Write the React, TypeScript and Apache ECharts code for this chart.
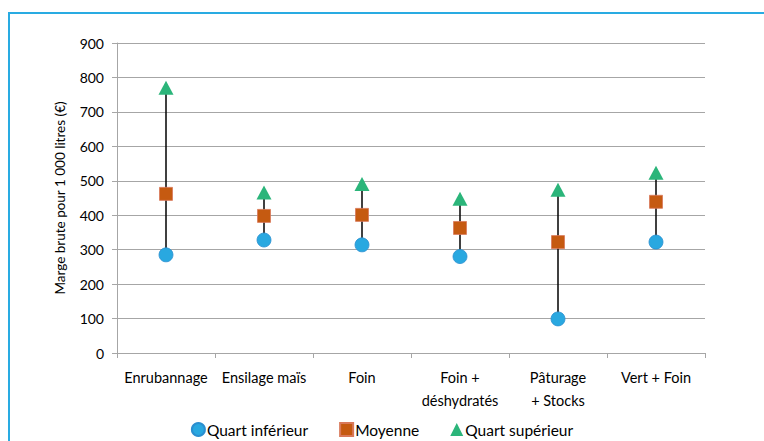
import React, { useEffect, useRef } from "react";
import * as echarts from "echarts";

const categories = ["Enrubannage", "Ensilage maïs", "Foin", "Foin +\ndéshydratés", "Pâturage\n+ Stocks", "Vert + Foin"];
const quartInferieur = [285, 328, 314, 280, 99, 322];
const moyenne = [462, 398, 401, 363, 322, 439];
const quartSuperieur = [770, 466, 491, 448, 474, 523];
const yTicks = [0, 100, 200, 300, 400, 500, 600, 700, 800, 900];

const FONT = "Lato, 'Open Sans', sans-serif";

export default function App() {
  const ref = useRef<HTMLDivElement>(null);
  useEffect(() => {
    if (!ref.current) return;
    const chart = echarts.init(ref.current, undefined, { renderer: "svg" });
    const rangeData = categories.map((_, i) => [i, quartInferieur[i], quartSuperieur[i]]);
    chart.setOption({
      animation: false,
      textStyle: { fontFamily: FONT },
      graphic: [
        {
          type: "rect",
          shape: { x: 9, y: 13, width: 800, height: 500 },
          style: { fill: "none", stroke: "#29abe2", lineWidth: 2 },
          silent: true,
        },
      ],
      grid: { left: 117, right: 59, top: 43, bottom: 88 },
      xAxis: {
        type: "category",
        data: categories,
        boundaryGap: true,
        axisLine: { lineStyle: { color: "#a6a6a6", width: 1 } },
        axisTick: { show: true, length: 5, alignWithLabel: false, lineStyle: { color: "#a6a6a6" } },
        axisLabel: { color: "#000", fontSize: 14.5, fontFamily: FONT, margin: 13, interval: 0, lineHeight: 23 },
      },
      yAxis: {
        type: "value",
        min: 0,
        max: 900,
        interval: 100,
        name: "Marge brute pour 1 000 litres (€)",
        nameLocation: "middle",
        nameGap: 50,
        nameTextStyle: { color: "#000", fontSize: 13.5, fontFamily: FONT },
        axisLine: { show: true, lineStyle: { color: "#a6a6a6" } },
        axisTick: { show: true, inside: false, length: 5, lineStyle: { color: "#a6a6a6" } },
        axisLabel: {
          color: "#000",
          fontSize: 14,
          fontFamily: FONT,
          margin: 13,
          formatter: (v: number) => (yTicks.includes(v) ? String(v) : ""),
        },
        splitLine: { lineStyle: { color: "#a6a6a6", width: 1 } },
      },
      legend: {
        top: 421,
        left: "center",
        padding: 0,
        itemWidth: 13,
        itemHeight: 13,
        itemGap: 31,
        textStyle: { color: "#000", fontSize: 15.5, lineHeight: 17, fontFamily: FONT, padding: [0, 0, 0, -3] },
        data: [
          { name: "Quart inférieur", icon: "circle" },
          { name: "Moyenne", icon: "rect" },
          { name: "Quart supérieur", icon: "triangle" },
        ],
      },
      series: [
        {
          type: "custom",
          name: "range",
          data: rangeData,
          z: 1,
          renderItem: (params: any, api: any) => {
            const lo = api.coord([api.value(0), api.value(1)]);
            const hi = api.coord([api.value(0), api.value(2)]);
            return {
              type: "line",
              shape: { x1: lo[0], y1: lo[1], x2: hi[0], y2: hi[1] },
              style: { stroke: "#000", lineWidth: 1.5 },
            };
          },
        },
        {
          type: "scatter",
          name: "Quart inférieur",
          data: quartInferieur,
          symbol: "circle",
          symbolSize: 14,
          z: 3,
          itemStyle: { color: "#29a8e0", borderColor: "#2b8fd0", borderWidth: 0.8, opacity: 1 },
        },
        {
          type: "scatter",
          name: "Moyenne",
          data: moyenne,
          symbol: "rect",
          symbolSize: 13,
          z: 3,
          itemStyle: { color: "#c55a11", borderColor: "#d9795a", borderWidth: 0.8, opacity: 1 },
        },
        {
          type: "scatter",
          name: "Quart supérieur",
          data: quartSuperieur,
          symbol: "triangle",
          symbolSize: [15, 14],
          z: 3,
          itemStyle: { color: "#2bb57a", opacity: 1 },
        },
      ],
    });
    return () => chart.dispose();
  }, []);
  return (
    <div
      ref={ref}
      style={{ position: "absolute", left: 0, top: 0, width: 764, height: 441, background: "#fff" }}
    />
  );
}
